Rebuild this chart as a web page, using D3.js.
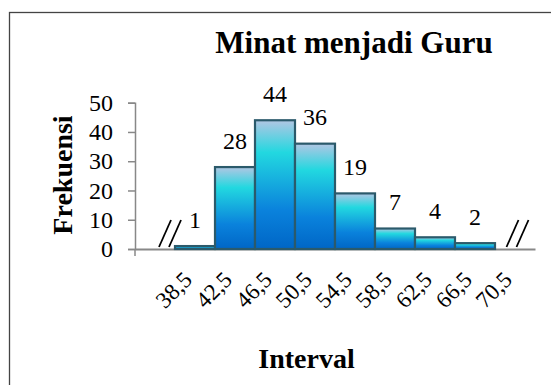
<!DOCTYPE html>
<html>
<head>
<meta charset="utf-8">
<script src="https://cdn.jsdelivr.net/npm/d3@7"></script>
<style>
  body { margin: 0; background: #fff; }
  svg { display: block; }
  text { font-family: "Liberation Serif", "Times New Roman", serif; }
</style>
</head>
<body>
<svg id="chart" width="551" height="385"></svg>
<script>
// interval boundaries and frequencies
var bounds = [38.5, 42.5, 46.5, 50.5, 54.5, 58.5, 62.5, 66.5, 70.5];
var freq = [1, 28, 44, 36, 19, 7, 4, 2];
var yTicks = [0, 10, 20, 30, 40, 50];

var serif = "'Liberation Serif', 'Times New Roman', serif";
var svg = d3.select("#chart");
var margin = { top: 102.7, bottom: 249, left: 135, right: 535 };

var bins = freq.map((f, i) => ({ x0: bounds[i], x1: bounds[i + 1], f: f }));

var x = d3.scaleLinear()
    .domain([34.5, 74.5])
    .range([margin.left, margin.right]);

var y = d3.scaleLinear()
    .domain([0, 50])
    .range([margin.bottom, margin.top]);

// chart frame
svg.append("rect")
    .attr("x", 9.5).attr("y", 12.5)
    .attr("width", 560).attr("height", 400)
    .attr("fill", "none")
    .attr("stroke", "#444")
    .attr("stroke-width", 1.3);

var grad = svg.append("defs").append("linearGradient")
    .attr("id", "barfill")
    .attr("x1", 0).attr("y1", 0).attr("x2", 0).attr("y2", 1);
grad.append("stop").attr("offset", "0").attr("stop-color", "#b2c6e3");
grad.append("stop").attr("offset", "0.25").attr("stop-color", "#22d8e0");
grad.append("stop").attr("offset", "0.7").attr("stop-color", "#0a82dc");
grad.append("stop").attr("offset", "1").attr("stop-color", "#0066c6");

// y axis
var yAxis = d3.axisLeft(y).tickValues(yTicks).tickSize(7).tickPadding(15);
var gy = svg.append("g")
    .attr("transform", `translate(${margin.left},0)`)
    .call(yAxis);
gy.attr("font-family", serif);
gy.select(".domain").attr("stroke", "#888").attr("stroke-width", 1.5);
gy.selectAll(".tick line").attr("stroke", "#888").attr("stroke-width", 1.5);
gy.selectAll(".tick text")
    .style("font-family", serif)
    .style("font-size", "24px")
    .style("fill", "#000");

// x axis
var xAxis = d3.axisBottom(x).tickValues(bounds).tickSize(0).tickFormat(d => String(d).replace(".", ","));
var gx = svg.append("g")
    .attr("transform", `translate(0,${margin.bottom})`)
    .call(xAxis);
gx.attr("font-family", serif);
gx.select(".domain").attr("stroke", "#888").attr("stroke-width", 1.8);
gx.selectAll(".tick text")
    .attr("x", 0).attr("y", 0).attr("dy", 0)
    .attr("transform", "translate(18,32) rotate(-45)")
    .style("text-anchor", "end")
    .style("font-family", serif)
    .style("font-size", "23px")
    .style("fill", "#000");

// small tick below origin
svg.append("line")
    .attr("x1", margin.left).attr("x2", margin.left)
    .attr("y1", margin.bottom).attr("y2", margin.bottom + 7)
    .attr("stroke", "#888").attr("stroke-width", 1.5);

// bars
svg.selectAll(".bar")
    .data(bins)
    .enter()
    .append("rect")
    .attr("class", "bar")
    .attr("x", d => x(d.x0))
    .attr("y", d => y(d.f))
    .attr("width", d => x(d.x1) - x(d.x0))
    .attr("height", d => y(0) - y(d.f))
    .attr("fill", "url(#barfill)")
    .attr("stroke", "#2b5a6b")
    .attr("stroke-width", 2.2);

// value labels
svg.selectAll(".label")
    .data(bins)
    .enter()
    .append("text")
    .attr("class", "label")
    .attr("x", d => (x(d.x0) + x(d.x1)) / 2)
    .attr("y", d => y(d.f) - 18.5)
    .attr("text-anchor", "middle")
    .style("font-family", serif)
    .style("font-size", "24px")
    .style("fill", "#000")
    .text(d => d.f);

// axis break marks
function breakMark(cx) {
    [-5, 5].forEach(off => {
        svg.append("line")
            .attr("x1", cx + off - 6).attr("y1", margin.bottom - 2)
            .attr("x2", cx + off + 6).attr("y2", margin.bottom - 29)
            .attr("stroke", "#000")
            .attr("stroke-width", 1.8);
    });
}
breakMark(x(36.5) + 15);
breakMark(x(72.5) + 2.5);

// titles
svg.append("text")
    .attr("x", 354).attr("y", 53)
    .attr("text-anchor", "middle")
    .style("font-family", serif)
    .style("font-size", "31px")
    .style("font-weight", "bold")
    .text("Minat menjadi Guru");

svg.append("text")
    .attr("transform", "translate(72,175) rotate(-90)")
    .attr("text-anchor", "middle")
    .style("font-family", serif)
    .style("font-size", "28px")
    .style("font-weight", "bold")
    .text("Frekuensi");

svg.append("text")
    .attr("x", 306.5).attr("y", 368)
    .attr("text-anchor", "middle")
    .style("font-family", serif)
    .style("font-size", "28px")
    .style("font-weight", "bold")
    .text("Interval");
</script>
</body>
</html>
